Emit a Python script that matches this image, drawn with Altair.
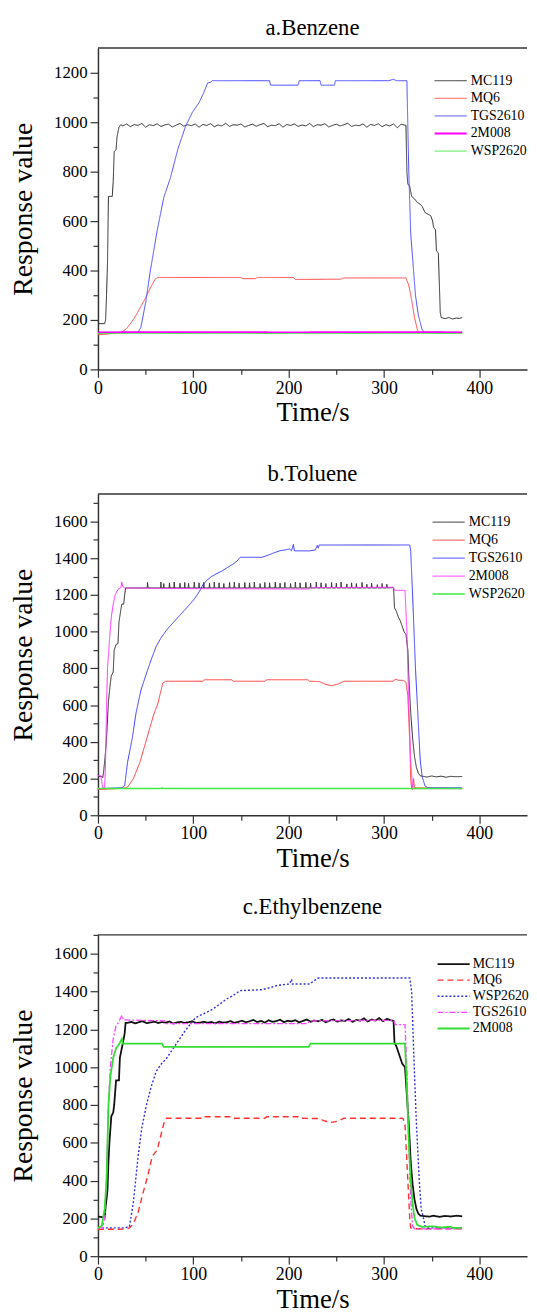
import altair as alt
import pandas as pd

FONT = "Liberation Serif"
AX = "#333333"
W, H = 434, 325
XMAX = 450

# ---------------- a. Benzene ----------------
a_names = ["MC119", "MQ6", "TGS2610", "2M008", "WSP2620"]
a_colors = ["#2a2a2a", "#ff4a4a", "#4a4aff", "#ff00ff", "#44e844"]
a_dashes = [[1, 0], [1, 0], [1, 0], [1, 0], [1, 0]]
a_widths = [1.0, 1.0, 1.0, 1.8, 1.0]

a_mc119_head_t = [0, 7, 8, 9, 10, 11, 15, 16, 17, 19, 20, 22, 24]
a_mc119_head_v = [185, 185, 200, 300, 430, 700, 700, 760, 880, 890, 940, 980, 990]
a_mc119_plat_t = list(range(26, 323, 4))
a_mc119_plat_v = [985, 993, 982, 991, 987, 995, 980, 990, 986, 994,
                  983, 989, 992, 981, 988, 995, 984, 990, 986, 993,
                  980, 991, 987, 994, 982, 989, 985, 996, 983, 990,
                  988, 993, 981, 987, 992, 984, 990, 995, 982, 988,
                  986, 994, 980, 991, 987, 993, 983, 989, 985, 995,
                  982, 990, 988, 994, 981, 987, 992, 985, 990, 996,
                  983, 988, 986, 993, 980, 991, 987, 994, 982, 990,
                  985, 993, 978, 992, 988]
a_mc119_tail_t = [323, 324, 325, 327, 329, 332, 335, 338, 340, 343, 346, 349, 351, 352, 354, 355,
                  357, 358, 359, 360, 364, 368, 372, 376, 379, 382]
a_mc119_tail_v = [988, 800, 750, 740, 700, 690, 675, 668, 660, 635, 628, 622, 600, 575, 565, 480,
                  470, 350, 230, 210, 205, 210, 204, 208, 206, 210]

a_mq6_t = [0, 10, 20, 25, 30, 35, 40, 45, 50, 55, 60, 63, 150, 152, 165, 167, 205, 207, 255, 257,
           323, 326, 329, 332, 335, 337, 382]
a_mq6_v = [140, 143, 148, 150, 165, 190, 220, 255, 290, 330, 365, 372, 372, 367, 367, 372, 372, 364,
           365, 370, 370, 340, 280, 210, 160, 150, 150]

a_tgs_t = [0, 42, 45, 50, 55, 62, 69, 76, 84, 92, 99, 106, 111, 115, 118, 120, 180, 181, 210, 211,
           233, 234, 248, 249, 305, 310, 313, 324, 326, 328, 331, 333, 336, 340, 343, 382]
a_tgs_v = [150, 150, 170, 270, 400, 560, 695, 775, 894, 985, 1040, 1079, 1120, 1159, 1162, 1168,
           1168, 1150, 1150, 1168, 1168, 1150, 1150, 1168, 1168, 1174, 1168, 1168, 800, 550, 400,
           300, 220, 160, 150, 150]

a_2m_t = [0, 100, 200, 300, 382]
a_2m_v = [150, 151, 150, 151, 150]
a_wsp_t = [0, 382]
a_wsp_v = [145, 145]

# ---------------- b. Toluene ----------------
b_names = ["MC119", "MQ6", "TGS2610", "2M008", "WSP2620"]
b_colors = ["#2a2a2a", "#ff3a3a", "#3a3aff", "#ff33ff", "#40e840"]
b_dashes = [[1, 0], [1, 0], [1, 0], [1, 0], [1, 0]]
b_widths = [1.0, 1.0, 1.0, 1.0, 1.5]

b_mc119_head_t = [0, 4, 5, 6, 8, 9, 10, 11, 13, 14, 16, 17, 19, 21, 22, 24, 25, 27, 28, 29]
b_mc119_head_v = [210, 212, 205, 240, 350, 420, 520, 620, 720, 760, 780, 900, 930, 935, 1050, 1120,
                  1150, 1150, 1200, 1238]
b_mc119_base = 1238
b_mc119_spike_t = [52, 66, 69, 75, 80, 86, 91, 95, 101, 106,
                   111, 117, 122, 127, 132, 138, 143, 148, 154, 159,
                   164, 170, 175, 180, 186, 191, 196, 202, 207, 212,
                   218, 223, 229, 234, 239, 245, 250, 255, 261, 266,
                   271, 277, 282, 287, 293, 298, 303]
b_mc119_spike_v = [1268, 1270, 1262, 1266, 1270, 1264, 1268, 1262, 1270, 1266,
                   1268, 1264, 1270, 1266, 1262, 1268, 1270, 1264, 1268, 1266,
                   1270, 1262, 1268, 1266, 1270, 1264, 1268, 1262, 1270, 1266,
                   1268, 1264, 1270, 1266, 1262, 1268, 1264, 1270, 1260, 1266,
                   1262, 1268, 1258, 1264, 1256, 1262, 1258]
b_mc119_tail_t = [310, 311, 313, 315, 317, 319, 321, 323, 325, 326, 328, 330, 332, 334, 336, 338,
                  341, 345, 350, 355, 360, 365, 370, 375, 382]
b_mc119_tail_v = [1240, 1130, 1110, 1080, 1060, 1030, 1000, 985, 900, 760, 560, 420, 320, 260, 230,
                  215, 212, 208, 214, 209, 213, 207, 212, 210, 211]

b_mq6_t = [0, 20, 27, 31, 37, 44, 51, 58, 63, 68, 71, 110, 112, 140, 142, 175, 177, 220, 222, 232,
           238, 245, 252, 258, 310, 312, 315, 320, 323, 325, 327, 328, 329, 330, 331, 332, 382]
b_mq6_v = [140, 145, 148, 153, 198, 288, 414, 540, 612, 720, 730, 730, 738, 738, 730, 730, 738, 738,
           730, 728, 715, 705, 715, 730, 730, 742, 735, 735, 725, 650, 400, 200, 145, 138, 200, 150,
           145]

b_tgs_t = [0, 25, 28, 31, 36, 40, 45, 51, 56, 61, 66, 72, 79, 86, 93, 100, 104, 107, 110, 114, 119,
           124, 130, 136, 142, 146, 149, 172, 177, 185, 191, 196, 201, 203, 205, 206, 222, 228, 230,
           231, 232, 327, 328, 330, 333, 336, 338, 340, 343, 346, 382]
b_tgs_v = [145, 150, 160, 288, 420, 559, 680, 775, 850, 919, 965, 1009, 1050, 1090, 1130, 1171, 1200,
           1225, 1255, 1279, 1300, 1315, 1330, 1350, 1369, 1385, 1405, 1405, 1414, 1430, 1441, 1445,
           1450, 1440, 1475, 1440, 1440, 1445, 1470, 1455, 1472, 1472, 1440, 1200, 800, 500, 300,
           210, 160, 150, 150]

b_2m_t = [0, 3, 5, 7, 8, 9, 10, 12, 14, 16, 18, 21, 24, 25, 26, 28, 70, 222, 223, 310, 311, 322,
          324, 326, 328, 330, 332, 382]
b_2m_v = [215, 215, 150, 150, 300, 600, 800, 950, 1080, 1150, 1200, 1230, 1240, 1270, 1245, 1238,
          1235, 1232, 1240, 1242, 1225, 1225, 1000, 600, 300, 150, 145, 145]

b_wsp_t = [0, 66, 67, 68, 382]
b_wsp_v = [146, 146, 149, 146, 146]

# ---------------- c. Ethylbenzene ----------------
c_names = ["MC119", "MQ6", "WSP2620", "TGS2610", "2M008"]
c_colors = ["#111111", "#ff3030", "#3030dd", "#ff44ff", "#33dd33"]
c_dashes = [[1, 0], [6, 4], [2, 2], [6, 2, 2, 2], [1, 0]]
c_widths = [1.8, 1.4, 1.4, 1.3, 1.8]

c_mc119_head_t = [0, 7, 8, 10, 11, 12, 14, 16, 17, 19, 22, 23, 25, 27, 28, 29]
c_mc119_head_v = [210, 205, 260, 350, 500, 600, 740, 760, 800, 930, 930, 1050, 1100, 1150, 1180, 1235]
c_mc119_plat_t = list(range(31, 308, 4))
c_mc119_plat_v = [1235, 1240, 1232, 1238, 1243, 1233, 1237, 1241, 1234, 1239,
                  1236, 1242, 1231, 1237, 1240, 1234, 1238, 1243, 1233, 1236,
                  1240, 1235, 1239, 1232, 1241, 1236, 1238, 1244, 1234, 1240,
                  1246, 1238, 1243, 1250, 1239, 1245, 1236, 1248, 1240, 1244,
                  1251, 1238, 1246, 1242, 1249, 1237, 1245, 1252, 1240, 1247,
                  1243, 1250, 1238, 1246, 1253, 1241, 1248, 1244, 1255, 1240,
                  1250, 1246, 1258, 1242, 1252, 1247, 1260, 1243, 1256, 1248]
c_mc119_tail_t = [310, 311, 313, 315, 317, 319, 322, 324, 326, 328, 330, 332, 334, 336, 338, 342,
                  348, 352, 358, 364, 370, 376, 382]
c_mc119_tail_v = [1245, 1130, 1110, 1080, 1050, 1020, 1000, 850, 700, 500, 380, 300, 250, 225, 215,
                  212, 209, 214, 208, 213, 210, 214, 211]

c_mq6_t = [0, 30, 33, 37, 42, 47, 52, 57, 62, 66, 70, 72, 110, 112, 140, 142, 175, 177, 210, 212,
           232, 238, 245, 252, 258, 318, 320, 322, 324, 325, 327, 328, 330, 382]
c_mq6_v = [142, 143, 150, 170, 230, 330, 420, 530, 560, 640, 720, 730, 730, 738, 738, 730, 730, 738,
           738, 730, 728, 715, 708, 715, 730, 730, 728, 700, 500, 400, 200, 150, 145, 145]

c_wsp_t = [0, 28, 33, 37, 42, 46, 51, 56, 61, 66, 72, 79, 86, 91, 96, 102, 107, 114, 121, 128, 135,
           142, 149, 172, 180, 187, 195, 201, 203, 204, 222, 228, 230, 232, 327, 329, 331, 334, 337,
           339, 341, 343, 346, 382]
c_wsp_v = [150, 150, 157, 279, 524, 680, 803, 900, 977, 1015, 1047, 1100, 1152, 1190, 1222, 1260,
           1274, 1290, 1309, 1335, 1361, 1380, 1405, 1410, 1420, 1431, 1437, 1440, 1465, 1440, 1440,
           1462, 1470, 1472, 1472, 1400, 1100, 700, 400, 250, 210, 160, 150, 150]

c_tgs_t = [0, 5, 7, 9, 11, 13, 16, 19, 22, 25, 27, 70, 72, 220, 222, 310, 312, 322, 324, 326, 328,
           330, 332, 382]
c_tgs_v = [150, 150, 200, 420, 800, 1000, 1150, 1220, 1240, 1275, 1250, 1245, 1230, 1230, 1245, 1248,
           1225, 1225, 1000, 600, 300, 160, 145, 145]

c_2m_t = [0, 4, 7, 9, 11, 13, 16, 19, 22, 25, 26, 67, 69, 221, 223, 322, 324, 326, 328, 330, 332,
          335, 340, 350, 360, 370, 372, 382]
c_2m_v = [150, 160, 250, 400, 800, 950, 1050, 1100, 1120, 1150, 1125, 1125, 1108, 1108, 1125, 1125,
          900, 600, 400, 280, 200, 165, 155, 158, 152, 156, 150, 150]


def spiky(head_t, head_v, base, spike_t, spike_v, tail_t, tail_v):
    ts, vs = list(head_t), list(head_v)
    for st, sv in zip(spike_t, spike_v):
        ts += [st - 0.4, st, st + 0.5]
        vs += [base, sv, base]
    return ts + list(tail_t), vs + list(tail_v)


a_series = {
    "MC119": (a_mc119_head_t + a_mc119_plat_t + a_mc119_tail_t,
              a_mc119_head_v + a_mc119_plat_v + a_mc119_tail_v),
    "MQ6": (a_mq6_t, a_mq6_v),
    "TGS2610": (a_tgs_t, a_tgs_v),
    "2M008": (a_2m_t, a_2m_v),
    "WSP2620": (a_wsp_t, a_wsp_v),
}
b_series = {
    "MC119": spiky(b_mc119_head_t, b_mc119_head_v, b_mc119_base, b_mc119_spike_t,
                   b_mc119_spike_v, b_mc119_tail_t, b_mc119_tail_v),
    "MQ6": (b_mq6_t, b_mq6_v),
    "TGS2610": (b_tgs_t, b_tgs_v),
    "2M008": (b_2m_t, b_2m_v),
    "WSP2620": (b_wsp_t, b_wsp_v),
}
c_series = {
    "MC119": (c_mc119_head_t + c_mc119_plat_t + c_mc119_tail_t,
              c_mc119_head_v + c_mc119_plat_v + c_mc119_tail_v),
    "MQ6": (c_mq6_t, c_mq6_v),
    "WSP2620": (c_wsp_t, c_wsp_v),
    "TGS2610": (c_tgs_t, c_tgs_v),
    "2M008": (c_2m_t, c_2m_v),
}


def build_df(names, series):
    rows = []
    for name in names:
        ts, vs = series[name]
        for i, (t, v) in enumerate(zip(ts, vs)):
            rows.append({"sensor": name, "t": t, "v": v, "i": i})
    return pd.DataFrame(rows)


def x_axis():
    return alt.Axis(
        values=list(range(0, 401, 50)), format="d",
        labelExpr="datum.value % 100 === 0 ? datum.label : ''",
        tickSize={"condition": {"test": "datum.value % 100 !== 0", "value": 5}, "value": 8},
        labelFont=FONT, labelFontSize=18, labelColor="black", labelPadding=2,
        labelOverlap=False, labelFlush=False,
        tickColor=AX, tickWidth=1.2, domainColor=AX, domainWidth=1.5, grid=False,
        title="Time/s", titleFont=FONT, titleFontSize=27, titleFontWeight="normal",
        titleColor="black", titlePadding=3,
    )


def y_axis(top_tick):
    return alt.Axis(
        values=list(range(0, top_tick + 1, 100)), format="d",
        labelExpr="datum.value % 200 === 0 ? datum.label : ''",
        tickSize={"condition": {"test": "datum.value % 200 !== 0", "value": 5}, "value": 8},
        labelFont=FONT, labelFontSize=17, labelColor="black", labelPadding=3,
        labelOverlap=False, labelFlush=False,
        tickColor=AX, tickWidth=1.2, domainColor=AX, domainWidth=1.5, grid=False,
        title="Response value", titleFont=FONT, titleFontSize=28, titleFontWeight="normal",
        titleColor="black", titlePadding=16,
    )


def panel(title, names, series, colors, dashes, widths, ymax, top_tick, lx, ly, rowpad, loff):
    df = build_df(names, series)
    leg = alt.Legend(
        title=None, orient="none", legendX=lx, legendY=ly,
        symbolType="M-3.5,0H3", symbolSize=100, labelOffset=loff,
        labelFont=FONT, labelFontSize=14, labelColor="black",
        rowPadding=rowpad, padding=0,
    )
    lines = alt.Chart(df).mark_line(clip=True).encode(
        x=alt.X("t:Q", scale=alt.Scale(domain=[0, XMAX], nice=False, zero=False), axis=x_axis()),
        y=alt.Y("v:Q", scale=alt.Scale(domain=[0, ymax], nice=False), axis=y_axis(top_tick)),
        color=alt.Color("sensor:N", scale=alt.Scale(domain=names, range=colors), legend=leg),
        strokeDash=alt.StrokeDash("sensor:N", scale=alt.Scale(domain=names, range=dashes), legend=leg),
        strokeWidth=alt.StrokeWidth("sensor:N",
                                    scale=alt.Scale(type="ordinal", domain=names, range=widths),
                                    legend=leg),
        order=alt.Order("i:Q"),
    )
    top = alt.Chart(pd.DataFrame({"k": [0]})).mark_rule(color=AX, strokeWidth=1.5).encode(
        x=alt.value(0), x2=alt.value(W), y=alt.value(0)
    )
    return alt.layer(lines, top).properties(
        width=W, height=H,
        title=alt.TitleParams(title, font=FONT, fontSize=23, fontWeight="normal", color="black",
                              anchor="middle", frame="group", offset=7),
    )


pa = panel("a.Benzene", a_names, a_series, a_colors, a_dashes, a_widths, 1300, 1200, 351, 26, 3.8, 12)
pb = panel("b.Toluene", b_names, b_series, b_colors, b_dashes, b_widths, 1750, 1700, 349, 21.5, 4.2, 12)
pc = panel("c.Ethylbenzene", c_names, c_series, c_colors, c_dashes, c_widths, 1700, 1700, 354, 22.5, 2.3, 11)

RES = dict(color="independent", strokeDash="independent", strokeWidth="independent",
           x="independent", y="independent")

top2 = alt.vconcat(pa, pb, spacing=38).resolve_scale(**RES).resolve_legend(
    color="independent", strokeDash="independent", strokeWidth="independent")
chart = alt.vconcat(top2, pc, spacing=25).resolve_scale(**RES).resolve_legend(
    color="independent", strokeDash="independent", strokeWidth="independent"
).properties(
    padding={"left": 2, "top": 2, "right": 0, "bottom": 0},
    background="white",
).configure_view(strokeWidth=0)

chart.save("out.html", embed_options={"renderer": "svg", "actions": False})
